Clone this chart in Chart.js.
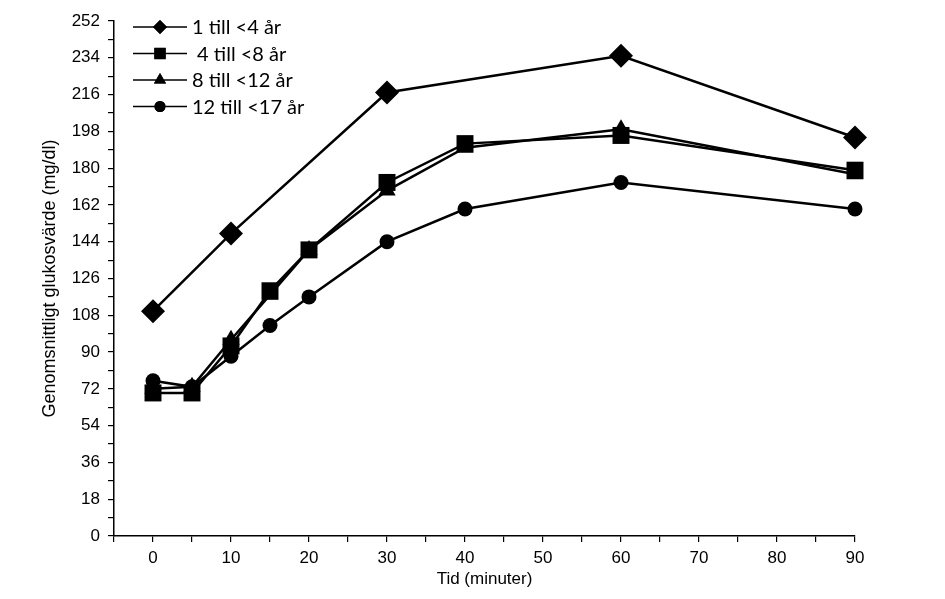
<!DOCTYPE html>
<html>
<head>
<meta charset="utf-8">
<script src="https://cdn.jsdelivr.net/npm/chart.js@4"></script>
<style>
  html, body { margin: 0; padding: 0; background: #fff; }
  #wrap { width: 945px; height: 599px; }
</style>
</head>
<body>
<div id="wrap"><canvas id="glukos"></canvas></div>
<script>
// tid i minuter
var tider = [0, 5, 10, 15, 20, 30, 40, 60, 90];

// medelvärden per åldersgrupp (mg/dl)
var grupp1 = [110, null, 148, null, null, 217, null, 235, 195];
var grupp2 = [70, 70, 93, 120, 140, 173, 192, 196, 179];
var grupp3 = [72, 73, 96, 118, 140, 169, 190, 199, 177];
var grupp4 = [76, 73, 88, 103, 117, 144, 160, 173, 160];

var etiketter = ['1 till <4 år', ' 4 till <8 år', '8 till <12 år', '12 till <17 år'];
var symboler = ['rectRot', 'rect', 'triangle', 'circle'];
var radier = [12, 12, 10, 7.5];
var legendRadier = [7, 8, 7, 5.5];

var serier = [grupp1, grupp2, grupp3, grupp4];

function punkter(v) {
    var ut = [];
    for (var i = 0; i < tider.length; i++) {
        if (v[i] !== null) ut.push({x: tider[i], y: v[i]});
    }
    return ut;
}

var datasets = serier.map(function(v, i) {
    return {
        label: etiketter[i],
        data: punkter(v),
        borderColor: '#000',
        backgroundColor: '#000',
        borderWidth: 2.5,
        pointStyle: symboler[i],
        pointRadius: radier[i],
        pointBorderWidth: 0,
        pointHoverRadius: radier[i],
        clip: false,
        tension: 0
    };
});

// egen förklaring inne i diagrammet
var legendPlugin = {
    id: 'inreLegend',
    afterDraw: function(chart) {
        var ctx = chart.ctx;
        ctx.save();
        for (var i = 0; i < etiketter.length; i++) {
            var y = 27 + i * 26.5;
            ctx.strokeStyle = '#000';
            ctx.lineWidth = 1.5;
            ctx.beginPath();
            ctx.moveTo(133, y);
            ctx.lineTo(187, y);
            ctx.stroke();
            ctx.fillStyle = '#000';
            Chart.helpers.drawPoint(ctx, {
                pointStyle: symboler[i], radius: legendRadier[i], rotation: 0, borderWidth: 0
            }, 160, y);
            ctx.fill();
            ctx.font = '20px Lato, "Noto Sans", sans-serif';
            ctx.textBaseline = 'middle';
            ctx.textAlign = 'left';
            ctx.fillText(etiketter[i], 192, y + 1);
        }
        ctx.restore();
    }
};

var axelFont = { family: '"Liberation Sans", Arial, sans-serif', size: 17 };

new Chart(document.getElementById('glukos'), {
    type: 'line',
    data: { datasets: datasets },
    plugins: [legendPlugin],
    options: {
        responsive: true,
        maintainAspectRatio: false,
        animation: false,
        layout: { padding: { top: 21, right: 90, left: 35, bottom: 5 } },
        plugins: {
            legend: { display: false },
            tooltip: { enabled: false }
        },
        scales: {
            x: {
                type: 'linear',
                min: -5,
                max: 90,
                border: { color: '#000', width: 1.5 },
                grid: { drawOnChartArea: false, color: '#000', tickLength: 6, lineWidth: 1.2 },
                ticks: {
                    stepSize: 5,
                    autoSkip: false,
                    maxRotation: 0,
                    color: '#000',
                    padding: 6,
                    font: axelFont,
                    callback: function(v) { return v % 10 === 0 ? v : ''; }
                },
                title: {
                    display: true,
                    text: 'Tid (minuter)',
                    color: '#000',
                    padding: { top: 0, bottom: 4 },
                    font: axelFont
                },
                afterFit: function(s) { s.height = 58; }
            },
            y: {
                min: 0,
                max: 252,
                border: { color: '#000', width: 1.5 },
                grid: { drawOnChartArea: false, color: '#000', tickLength: 6, lineWidth: 1.2 },
                ticks: {
                    stepSize: 9,
                    autoSkip: false,
                    color: '#000',
                    padding: 8,
                    font: axelFont,
                    callback: function(v) { return v % 18 === 0 ? v : ''; }
                },
                title: {
                    display: true,
                    text: 'Genomsnittligt glukosvärde (mg/dl)',
                    color: '#000',
                    padding: { bottom: 6 },
                    font: { family: '"Liberation Sans", Arial, sans-serif', size: 18 }
                },
                afterFit: function(s) { s.width = 79; }
            }
        }
    }
});
</script>
</body>
</html>
